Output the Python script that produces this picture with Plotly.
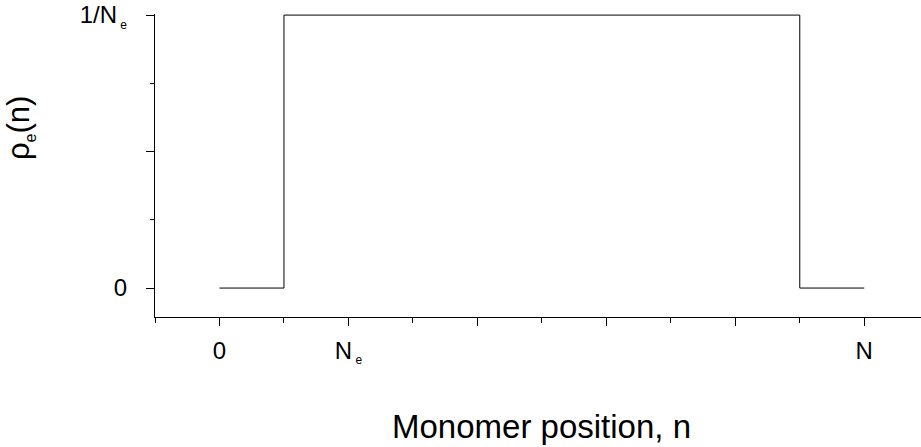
import plotly.graph_objects as go

# Step profile of the end-monomer density along the chain (units of the minor tick spacing)
n_steps = [0, 1, 9, 10]
rho_steps = [0, 1, 0, 0]

# Axis ticks and labels
x_labeled = [0, 2, 10]
x_labels = ["0", "N<sub><span style='font-size:12px'> e</span></sub>", "N"]
x_plain = [4, 6, 8]
x_minor = [-1, 1, 3, 5, 7, 9]
y_labeled = [0, 1]
y_labels = ["0", "1/N<sub><span style='font-size:12px'> e</span></sub>"]
y_plain = [0.5]
y_minor = [0.25, 0.75]

X_RANGE = [-1, 10.88]
Y_RANGE = [-0.106, 1.004]
FONT = "Liberation Sans, Arial, sans-serif"
TICK = dict(ticks="outside", tickwidth=1.3, tickcolor="black")

fig = go.Figure()
fig.add_trace(go.Scatter(
    x=n_steps, y=rho_steps, mode="lines",
    line=dict(color="black", width=1, shape="hv"),
    hoverinfo="skip", showlegend=False,
))
# empty trace that carries the overlay axes holding the unlabeled major ticks
fig.add_trace(go.Scatter(x=[], y=[], xaxis="x2", yaxis="y2",
                         mode="lines", hoverinfo="skip", showlegend=False))

fig.update_layout(
    width=921, height=447,
    margin=dict(l=155, r=0, t=14, b=130),
    paper_bgcolor="white", plot_bgcolor="white",
    font=dict(family=FONT, size=24, color="black"),
    xaxis=dict(
        range=X_RANGE, showgrid=False, zeroline=False,
        showline=True, linecolor="black", linewidth=1.3,
        ticklen=8, tickvals=x_labeled, ticktext=x_labels, ticklabelstandoff=4,
        minor=dict(tickvals=x_minor, ticklen=5, showgrid=False, **TICK),
        **TICK,
    ),
    yaxis=dict(
        range=Y_RANGE, showgrid=False, zeroline=False,
        showline=True, linecolor="black", linewidth=1.3,
        ticklen=8, tickvals=y_labeled, ticktext=y_labels, ticklabelstandoff=14,
        minor=dict(tickvals=y_minor, ticklen=4, showgrid=False, **TICK),
        **TICK,
    ),
    xaxis2=dict(
        range=X_RANGE, overlaying="x", anchor="y2", side="bottom",
        showgrid=False, zeroline=False, showline=False,
        ticklen=8, tickvals=x_plain, showticklabels=False, **TICK,
    ),
    yaxis2=dict(
        range=Y_RANGE, overlaying="y", anchor="x2", side="left",
        showgrid=False, zeroline=False, showline=False,
        ticklen=8, tickvals=y_plain, showticklabels=False, **TICK,
    ),
    annotations=[
        dict(text="Monomer position, n", xref="paper", yref="paper",
             x=0.505, y=-0.36, xanchor="center", yanchor="middle",
             showarrow=False, font=dict(family=FONT, size=33)),
        dict(text="ρ<sub><span style='font-size:16px'>e</span></sub>(n)",
             xref="paper", yref="paper", x=-0.176, y=0.624,
             xanchor="center", yanchor="middle", textangle=-90,
             showarrow=False, font=dict(family=FONT, size=31)),
    ],
)

fig.write_html("out.html")
